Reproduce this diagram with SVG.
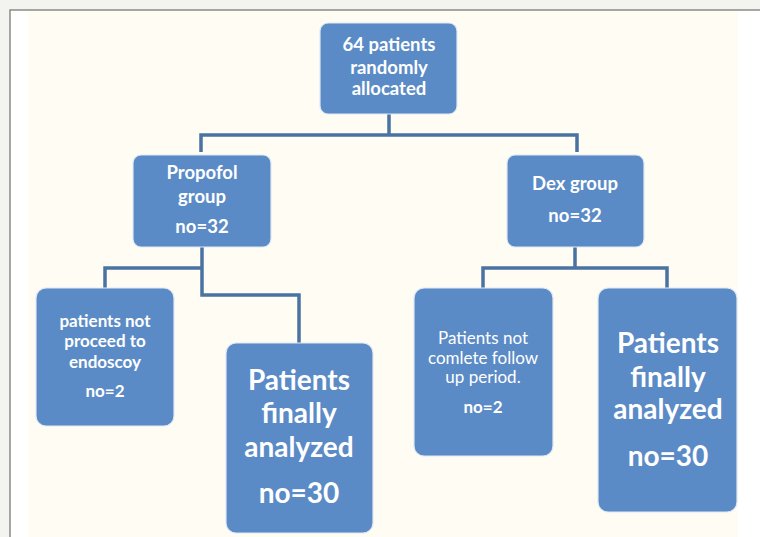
<svg xmlns="http://www.w3.org/2000/svg" width="760" height="537" viewBox="0 0 760 537">
<style>
.box{fill:#5b8bc6;stroke:#dfe8f3;stroke-width:1.2}
.t{font-family:Lato,"Open Sans",sans-serif;fill:#ffffff;text-anchor:middle;font-weight:bold}
.s{font-size:18.5px}
.r{font-weight:normal;font-size:17px}
.rb{font-weight:bold;font-size:17px}
.b{font-size:28px}
.c{fill:none;stroke:#4a72a3;stroke-width:3.5}
</style>
<rect x="0" y="0" width="760" height="537" fill="#f3f3ef"/>
<rect x="10" y="10" width="760" height="540" fill="#ffffff" stroke="#8a8a86" stroke-width="1.5"/>
<rect x="28" y="11" width="710" height="526" fill="#fffdf3"/>
<g id="connectors">
<path class="c" d="M389 114 V135 M201 152 V135 H577 V152"/>
<path class="c" d="M202 247 V295 H299 V343 M105 288 V268 H202"/>
<path class="c" d="M575 247 V268 M483 288 V268 H667 V288"/>
</g>
<g id="n1"><rect class="box" x="320" y="23" width="137" height="91" rx="8"/>
<text class="t s" x="389" y="51">64 patients</text>
<text class="t s" x="389" y="74">randomly</text>
<text class="t s" x="389" y="95">allocated</text></g>
<g id="n2"><rect class="box" x="133" y="155" width="138" height="92" rx="8"/>
<text class="t s" x="202" y="179">Propofol</text>
<text class="t s" x="202" y="203">group</text>
<text class="t s" x="202" y="233">no=32</text></g>
<g id="n3"><rect class="box" x="507" y="155" width="137" height="92" rx="8"/>
<text class="t s" x="575" y="190">Dex group</text>
<text class="t s" x="575" y="222">no=32</text></g>
<g id="n4"><rect class="box" x="36" y="288" width="138" height="138" rx="10"/>
<text class="t rb" x="105" y="327">patients not</text>
<text class="t rb" x="105" y="347">proceed to</text>
<text class="t rb" x="105" y="368">endoscoy</text>
<text class="t rb" x="105" y="397">no=2</text></g>
<g id="n5"><rect class="box" x="226" y="343" width="147" height="190" rx="10"/>
<text class="t b" x="299" y="390">Patients</text>
<text class="t b" x="299" y="423">finally</text>
<text class="t b" x="299" y="457">analyzed</text>
<text class="t b" x="299" y="503">no=30</text></g>
<g id="n6"><rect class="box" x="414" y="288" width="139" height="168" rx="10"/>
<text class="t r" x="483" y="344">Patients not</text>
<text class="t r" x="483" y="364">comlete follow</text>
<text class="t r" x="483" y="383">up period.</text>
<text class="t rb" x="483" y="413">no=2</text></g>
<g id="n7"><rect class="box" x="598" y="288" width="139" height="224" rx="10"/>
<text class="t b" x="668" y="353">Patients</text>
<text class="t b" x="668" y="387">finally</text>
<text class="t b" x="668" y="419">analyzed</text>
<text class="t b" x="668" y="466">no=30</text></g>
</svg>
